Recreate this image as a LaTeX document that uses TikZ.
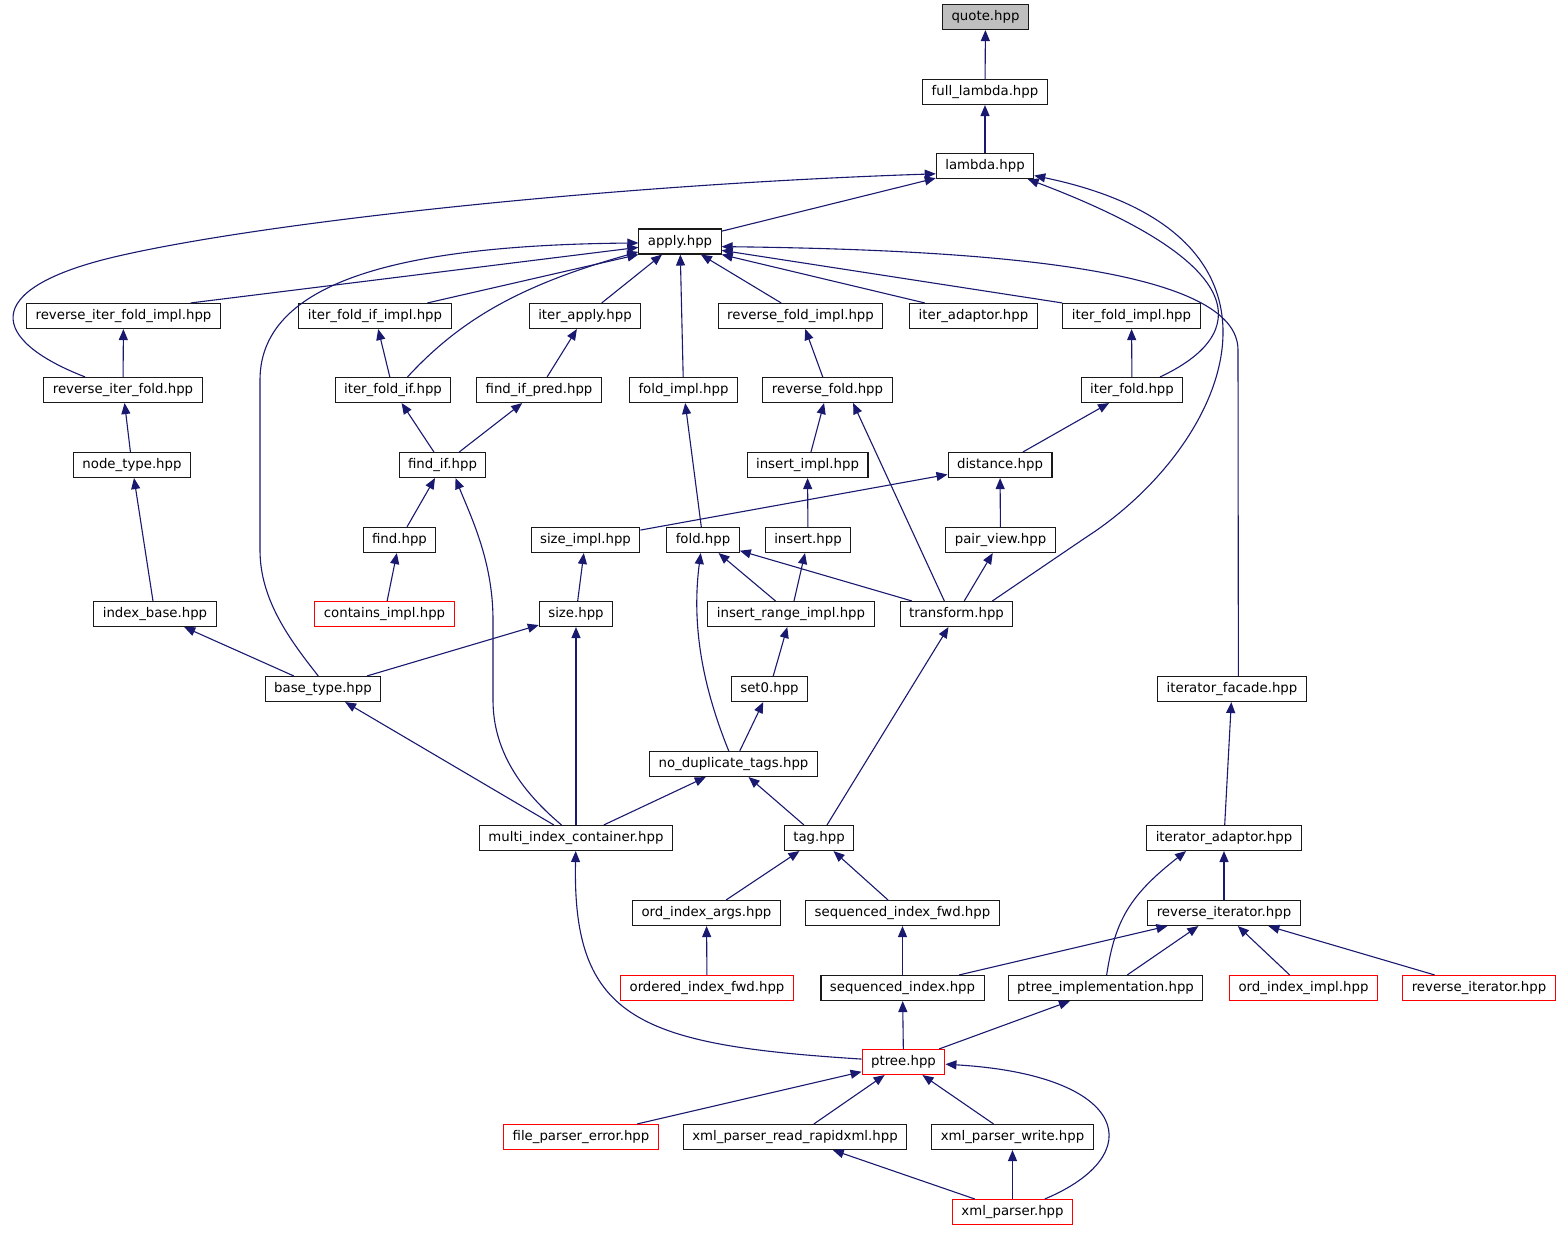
\documentclass[tikz,border=0pt]{standalone}
\usepackage{fontspec}
\setmainfont{DejaVu Sans}
\usetikzlibrary{arrows.meta}
\definecolor{edgeblue}{HTML}{191970}
\definecolor{rootgray}{HTML}{BFBFBF}
\tikzset{
	file/.style={draw=black!90,fill=white,line width=1.1pt,minimum height=25pt,inner xsep=9pt,inner ysep=0pt},
	missing/.style={file,draw=red},
	dep/.style={draw=edgeblue,line width=1.1pt,-{Triangle[length=11pt,width=9pt]}}
}
\begin{document}
\begin{tikzpicture}[x=1pt,y=-1pt,font=\fontsize{13.3pt}{16pt}\selectfont]
		\path[use as bounding box,fill=white] (0,0) rectangle (1561,1232);
		% rows from top to bottom
		\node[file,fill=rootgray] (quote) at (985.5,17) {quote.hpp};
		\node[file] (fl) at (985,92) {full\_lambda.hpp};
		\node[file] (lambda) at (985,166) {lambda.hpp};
		\node[file] (apply) at (680,241.5) {apply.hpp};
		\node[file] (rifi) at (123.5,316) {reverse\_iter\_fold\_impl.hpp};
		\node[file] (ifii) at (375,316) {iter\_fold\_if\_impl.hpp};
		\node[file] (iapp) at (585,316) {iter\_apply.hpp};
		\node[file] (rfi) at (800.5,316) {reverse\_fold\_impl.hpp};
		\node[file] (iada) at (973.5,316) {iter\_adaptor.hpp};
		\node[file] (ifi) at (1131.5,316) {iter\_fold\_impl.hpp};
		\node[file] (rif) at (123,390) {reverse\_iter\_fold.hpp};
		\node[file] (ifif) at (393,390) {iter\_fold\_if.hpp};
		\node[file] (fip) at (539,390) {find\_if\_pred.hpp};
		\node[file] (fimpl) at (683.5,390) {fold\_impl.hpp};
		\node[file] (rf) at (827.5,390) {reverse\_fold.hpp};
		\node[file] (itf) at (1132,390) {iter\_fold.hpp};
		\node[file] (nt) at (132,465) {node\_type.hpp};
		\node[file] (fif) at (442.5,465) {find\_if.hpp};
		\node[file] (ii) at (807.5,465) {insert\_impl.hpp};
		\node[file] (dist) at (1000,465) {distance.hpp};
		\node[file] (find) at (399.5,540) {find.hpp};
		\node[file] (si) at (585.5,540) {size\_impl.hpp};
		\node[file] (fold) at (703,540) {fold.hpp};
		\node[file] (ins) at (808,540) {insert.hpp};
		\node[file] (pv) at (1000.5,540) {pair\_view.hpp};
		\node[file] (ib) at (155,614) {index\_base.hpp};
		\node[missing] (ci) at (384.5,614) {contains\_impl.hpp};
		\node[file] (size) at (576,614) {size.hpp};
		\node[file] (iri) at (791,614) {insert\_range\_impl.hpp};
		\node[file] (tr) at (956.5,614) {transform.hpp};
		\node[file] (bt) at (323,689) {base\_type.hpp};
		\node[file] (set0) at (769.5,689) {set0.hpp};
		\node[file] (ifac) at (1232,689) {iterator\_facade.hpp};
		\node[file] (ndt) at (733.5,764) {no\_duplicate\_tags.hpp};
		\node[file] (mic) at (576,838) {multi\_index\_container.hpp};
		\node[file] (tag) at (819,838) {tag.hpp};
		\node[file] (iad) at (1224,838) {iterator\_adaptor.hpp};
		\node[file] (oia) at (706.5,913) {ord\_index\_args.hpp};
		\node[file] (sif) at (902.5,913) {sequenced\_index\_fwd.hpp};
		\node[file] (ri) at (1224,913) {reverse\_iterator.hpp};
		\node[missing] (oif) at (707,988) {ordered\_index\_fwd.hpp};
		\node[file] (si2) at (902.5,988) {sequenced\_index.hpp};
		\node[file] (pti) at (1105.5,988) {ptree\_implementation.hpp};
		\node[missing] (oii) at (1303.5,988) {ord\_index\_impl.hpp};
		\node[missing] (ri2) at (1479,988) {reverse\_iterator.hpp};
		\node[missing] (ptree) at (903.5,1062) {ptree.hpp};
		\node[missing] (fpe) at (581,1137) {file\_parser\_error.hpp};
		\node[file] (xprr) at (795,1137) {xml\_parser\_read\_rapidxml.hpp};
		\node[file] (xpw) at (1012.5,1137) {xml\_parser\_write.hpp};
		\node[missing] (xp) at (1012.5,1212) {xml\_parser.hpp};
		% straight includes
		\foreach \a/\b in {fl/quote,lambda/fl,apply/lambda,fimpl/apply,rif/rifi,ifif/ifii,fip/iapp,rf/rfi,itf/ifi,nt/rif,fif/ifif,fif/fip,fold/fimpl,ii/rf,dist/itf,ib/nt,find/fif,ins/ii,si/dist,pv/dist,ci/find,size/si,iri/fold,tr/fold,iri/ins,tr/pv,bt/ib,bt/size,mic/size,set0/iri,tag/tr,mic/bt,ndt/set0,iad/ifac,mic/ndt,tag/ndt,oia/tag,sif/tag,ri/iad,oif/oia,si2/sif,oii/ri,ri2/ri,ptree/si2,ptree/pti,fpe/ptree,xprr/ptree,xpw/ptree,xp/xprr,xp/xpw}
		\draw[dep] (\a) -- (\b);
		\foreach \a/\b in {rifi.11/apply.188,ifii.14/apply.south west,iapp.38/apply.216,rfi.146/apply.-32,iada.165/apply.south east,ifi.north west/apply.-12,tr.133/rf.-27,si2.13/ri.193,pti.31/ri.207}
		\draw[dep] (\a) -- (\b);
		% bent includes
		\draw[dep] (rif.161) .. controls (-10,340) and (-20,290) .. (110,258) .. controls (250,224) and (600,185) .. (lambda.189);
		\draw[dep] (itf.25) .. controls (1250,335) and (1255,265) .. (lambda.-17);
		\draw[dep] (tr.20) -- (1085,538) .. controls (1230,445) and (1320,235) .. (lambda.-11);
		\draw[dep] (bt.110) .. controls (290,640) and (260,600) .. (260,550) -- (260,380) .. controls (260,275) and (420,245) .. (apply.182);
		\draw[dep] (ifif.42) .. controls (460,320) and (520,285) .. (apply.194);
		\draw[dep] (ifac.64) -- (1238,350) .. controls (1238,270) and (1000,250) .. (apply.-7);
		\draw[dep] (mic.138) .. controls (520,790) and (493,750) .. (493,700) -- (493,620) .. controls (493,560) and (470,515) .. (fif.-45);
		\draw[dep] (ndt.110) .. controls (700,680) and (692,620) .. (fold.-100);
		\draw[dep] (pti.85) .. controls (1115,920) and (1130,895) .. (iad.199);
		\draw[dep] (ptree.176) .. controls (640,1045) and (572,1020) .. (mic.-91);
		\draw[dep] (xp.22) .. controls (1150,1155) and (1130,1075) .. (ptree.-3);
\end{tikzpicture}
\end{document}
